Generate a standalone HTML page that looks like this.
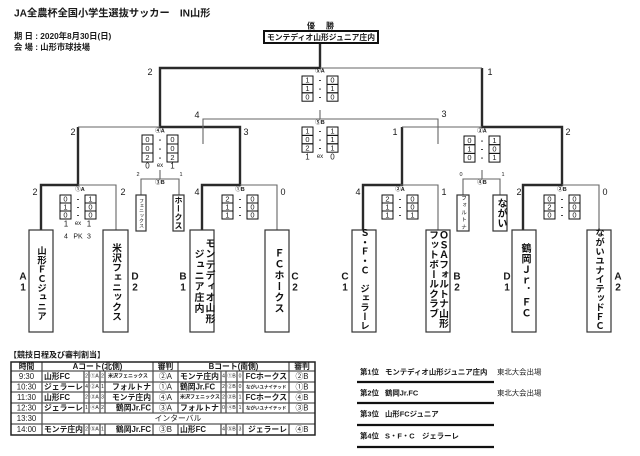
<!DOCTYPE html>
<html><head><meta charset="utf-8">
<style>
html,body{margin:0;padding:0;background:#fff;}
body{width:640px;height:456px;position:relative;overflow:hidden;}
svg{position:absolute;left:0;top:0;}
svg text{font-family:"Liberation Sans","Noto Sans CJK JP",sans-serif;dominant-baseline:central;fill:#1a1a1a;}
.m{text-anchor:middle}
.e{text-anchor:end}
.b{font-weight:bold}
.v{position:absolute;writing-mode:vertical-rl;text-orientation:upright;text-align:center;white-space:nowrap;font-family:"Liberation Sans","Noto Sans CJK JP",sans-serif;font-weight:bold;color:#111;}
</style></head><body>
<svg width="640" height="456" viewBox="0 0 640 456">
<!-- header -->
<text x="14" y="14" font-size="10.2" class="b">JA全農杯全国小学生選抜サッカー　IN山形</text>
<text x="14" y="36" font-size="8.3" class="b">期 日 : 2020年8月30日(日)</text>
<text x="14" y="47" font-size="8.3" class="b">会 場 : 山形市球技場</text>
<text x="311" y="26" class="m b" font-size="8" fill="#444">優</text>
<text x="330" y="26" class="m b" font-size="8" fill="#444">勝</text>

<!-- thick lines -->
<g stroke="#2a2a2a" stroke-width="2.4" fill="none">
<path d="M320 43 V68 H160 V127 H240 V185 H202 V230"/>
<path d="M78 127 V185 H41 V230"/>
<path d="M482 68 V127 H562 V185 H523 V230"/>
<path d="M402 127 V185 H363 V230"/>
</g>
<!-- thin lines -->
<g stroke="#666" stroke-width="1.1" fill="none">
<path d="M320 68 H482"/>
<path d="M78 127 H160"/>
<path d="M402 127 H482"/>
<path d="M78 185 H116 V230"/>
<path d="M240 185 H277 V230"/>
<path d="M400 185 H438 V230"/>
<path d="M562 185 H599 V230"/>
<path d="M320 110 V119 M203 144 V119 H438 V144"/>
<path d="M160 170 V179 M141 195 V179 H179 V195"/>
<path d="M482 170 V179 M463 195 V179 H500 V195"/>
</g>

<!-- champion box -->
<rect x="264" y="31" width="114" height="12" fill="#fff" stroke="#111" stroke-width="2"/>
<text x="321" y="37.5" class="m b" font-size="7.8">モンテディオ山形ジュニア庄内</text>

<!-- team boxes -->
<g fill="none" stroke="#333" stroke-width="1.2">
<rect x="29" y="230" width="24" height="102"/>
<rect x="103" y="230" width="25" height="102"/>
<rect x="190" y="230" width="24" height="102"/>
<rect x="265" y="230" width="24" height="102"/>
<rect x="352" y="230" width="24" height="102"/>
<rect x="426" y="230" width="24" height="102"/>
<rect x="512" y="230" width="24" height="102"/>
<rect x="587" y="230" width="24" height="102"/>
<rect x="136" y="195" width="10" height="36"/>
<rect x="173" y="195" width="11" height="36"/>
<rect x="457" y="195" width="12" height="36"/>
<rect x="493" y="195" width="14" height="36"/>
</g>

<!-- score boxes -->
<g fill="none" stroke="#111" stroke-width="1">
<rect x="302" y="76" width="11" height="8.4"/><rect x="302" y="84.4" width="11" height="8.4"/><rect x="302" y="92.8" width="11" height="8.4"/>
<rect x="327" y="76" width="11" height="8.4"/><rect x="327" y="84.4" width="11" height="8.4"/><rect x="327" y="92.8" width="11" height="8.4"/>
<rect x="302" y="127" width="11" height="8.4"/><rect x="302" y="135.4" width="11" height="8.4"/><rect x="302" y="143.8" width="11" height="8.4"/>
<rect x="327" y="127" width="11" height="8.4"/><rect x="327" y="135.4" width="11" height="8.4"/><rect x="327" y="143.8" width="11" height="8.4"/>
<rect x="142" y="135" width="11" height="9"/><rect x="142" y="144" width="11" height="9"/><rect x="142" y="153" width="11" height="9"/>
<rect x="167" y="135" width="11" height="9"/><rect x="167" y="144" width="11" height="9"/><rect x="167" y="153" width="11" height="9"/>
<rect x="464" y="136" width="11" height="8.7"/><rect x="464" y="144.7" width="11" height="8.7"/><rect x="464" y="153.4" width="11" height="8.7"/>
<rect x="489" y="136" width="11" height="8.7"/><rect x="489" y="144.7" width="11" height="8.7"/><rect x="489" y="153.4" width="11" height="8.7"/>
<rect x="60" y="195" width="11" height="8"/><rect x="60" y="203" width="11" height="8"/><rect x="60" y="211" width="11" height="8"/>
<rect x="85" y="195" width="11" height="8"/><rect x="85" y="203" width="11" height="8"/><rect x="85" y="211" width="11" height="8"/>
<rect x="222" y="195" width="11" height="8"/><rect x="222" y="203" width="11" height="8"/><rect x="222" y="211" width="11" height="8"/>
<rect x="247" y="195" width="11" height="8"/><rect x="247" y="203" width="11" height="8"/><rect x="247" y="211" width="11" height="8"/>
<rect x="382" y="195" width="11" height="8"/><rect x="382" y="203" width="11" height="8"/><rect x="382" y="211" width="11" height="8"/>
<rect x="407" y="195" width="11" height="8"/><rect x="407" y="203" width="11" height="8"/><rect x="407" y="211" width="11" height="8"/>
<rect x="544" y="195" width="11" height="8"/><rect x="544" y="203" width="11" height="8"/><rect x="544" y="211" width="11" height="8"/>
<rect x="569" y="195" width="11" height="8"/><rect x="569" y="203" width="11" height="8"/><rect x="569" y="211" width="11" height="8"/>
</g>

<g font-size="7.5">
<!-- 5A -->
<text x="307.5" y="80.2" class="m">1</text><text x="320" y="80.2" class="m b">-</text><text x="332.5" y="80.2" class="m">0</text>
<text x="307.5" y="88.6" class="m">1</text><text x="320" y="88.6" class="m b">-</text><text x="332.5" y="88.6" class="m">1</text>
<text x="307.5" y="97" class="m">0</text><text x="320" y="97" class="m b">-</text><text x="332.5" y="97" class="m">0</text>
<!-- 5B -->
<text x="307.5" y="131.2" class="m">1</text><text x="320" y="131.2" class="m b">-</text><text x="332.5" y="131.2" class="m">1</text>
<text x="307.5" y="139.6" class="m">0</text><text x="320" y="139.6" class="m b">-</text><text x="332.5" y="139.6" class="m">1</text>
<text x="307.5" y="148" class="m">2</text><text x="320" y="148" class="m b">-</text><text x="332.5" y="148" class="m">1</text>
<!-- 4A -->
<text x="147.5" y="139.5" class="m">0</text><text x="160" y="139.5" class="m b">-</text><text x="172.5" y="139.5" class="m">0</text>
<text x="147.5" y="148.5" class="m">0</text><text x="160" y="148.5" class="m b">-</text><text x="172.5" y="148.5" class="m">0</text>
<text x="147.5" y="157.5" class="m">2</text><text x="160" y="157.5" class="m b">-</text><text x="172.5" y="157.5" class="m">2</text>
<!-- 3A -->
<text x="469.5" y="140.3" class="m">0</text><text x="482" y="140.3" class="m b">-</text><text x="494.5" y="140.3" class="m">1</text>
<text x="469.5" y="149" class="m">1</text><text x="482" y="149" class="m b">-</text><text x="494.5" y="149" class="m">0</text>
<text x="469.5" y="157.7" class="m">0</text><text x="482" y="157.7" class="m b">-</text><text x="494.5" y="157.7" class="m">1</text>
<!-- 1A -->
<text x="65.5" y="199" class="m">0</text><text x="78" y="199" class="m b">-</text><text x="90.5" y="199" class="m">1</text>
<text x="65.5" y="207" class="m">1</text><text x="78" y="207" class="m b">-</text><text x="90.5" y="207" class="m">0</text>
<text x="65.5" y="215" class="m">0</text><text x="78" y="215" class="m b">-</text><text x="90.5" y="215" class="m">0</text>
<!-- 1B -->
<text x="227.5" y="199" class="m">2</text><text x="240" y="199" class="m b">-</text><text x="252.5" y="199" class="m">0</text>
<text x="227.5" y="207" class="m">1</text><text x="240" y="207" class="m b">-</text><text x="252.5" y="207" class="m">0</text>
<text x="227.5" y="215" class="m">1</text><text x="240" y="215" class="m b">-</text><text x="252.5" y="215" class="m">0</text>
<!-- 2A -->
<text x="387.5" y="199" class="m">2</text><text x="400" y="199" class="m b">-</text><text x="412.5" y="199" class="m">0</text>
<text x="387.5" y="207" class="m">1</text><text x="400" y="207" class="m b">-</text><text x="412.5" y="207" class="m">0</text>
<text x="387.5" y="215" class="m">1</text><text x="400" y="215" class="m b">-</text><text x="412.5" y="215" class="m">1</text>
<!-- 2B -->
<text x="549.5" y="199" class="m">0</text><text x="562" y="199" class="m b">-</text><text x="574.5" y="199" class="m">0</text>
<text x="549.5" y="207" class="m">2</text><text x="562" y="207" class="m b">-</text><text x="574.5" y="207" class="m">0</text>
<text x="549.5" y="215" class="m">0</text><text x="562" y="215" class="m b">-</text><text x="574.5" y="215" class="m">0</text>
</g>

<!-- ex / PK -->
<g font-size="8" fill="#333">
<text x="147.5" y="166" class="m">0</text><text x="160" y="166" class="m" font-size="6" fill="#666">ex</text><text x="172.5" y="166" class="m">1</text>
<text x="307.5" y="157" class="m">1</text><text x="320" y="157" class="m" font-size="6" fill="#666">ex</text><text x="332.5" y="157" class="m">0</text>
<text x="66" y="224" class="m">1</text><text x="78" y="224" class="m" font-size="6" fill="#666">ex</text><text x="89" y="224" class="m">1</text>
</g>
<g font-size="7" fill="#777">
<text x="66" y="237" class="m" fill="#777">4</text><text x="78" y="237" class="m" fill="#777">PK</text><text x="89" y="237" class="m" fill="#777">3</text>
</g>

<!-- match labels -->
<g font-size="5.5" class="b">
<text x="320" y="71.5" class="m b">⑤A</text>
<text x="320" y="123" class="m b">⑤B</text>
<text x="160" y="131.5" class="m b">④A</text>
<text x="482" y="131.5" class="m b">③A</text>
<text x="80" y="190" class="m b">①A</text>
<text x="240" y="190" class="m b">①B</text>
<text x="400" y="190" class="m b">②A</text>
<text x="562" y="190" class="m b">②B</text>
<text x="160" y="183" class="m b">③B</text>
<text x="482" y="183" class="m b">④B</text>
</g>

<!-- goal counts -->
<g font-size="9">
<text x="150" y="72" class="m">2</text><text x="490" y="72" class="m">1</text>
<text x="73" y="132" class="m">2</text><text x="246" y="132" class="m">3</text>
<text x="197" y="115" class="m">4</text><text x="444" y="114" class="m">3</text>
<text x="395" y="132" class="m">1</text><text x="568" y="132" class="m">2</text>
<text x="35" y="192" class="m">2</text><text x="123" y="192" class="m">2</text>
<text x="197" y="192" class="m">4</text><text x="283" y="192" class="m">0</text>
<text x="358" y="192" class="m">4</text><text x="444" y="192" class="m">1</text>
<text x="519" y="192" class="m">2</text><text x="605" y="192" class="m">0</text>
</g>
<g font-size="5.5">
<text x="138" y="175" class="m">2</text><text x="181" y="175" class="m">1</text>
<text x="461" y="175" class="m">0</text><text x="503" y="175" class="m">1</text>
</g>

<!-- seeds -->
<g font-size="10" class="b">
<text x="23" y="277" class="m b">A</text><text x="23" y="288" class="m b">1</text>
<text x="135" y="277" class="m b">D</text><text x="135" y="288" class="m b">2</text>
<text x="183" y="277" class="m b">B</text><text x="183" y="288" class="m b">1</text>
<text x="295" y="277" class="m b">C</text><text x="295" y="288" class="m b">2</text>
<text x="345" y="277" class="m b">C</text><text x="345" y="288" class="m b">1</text>
<text x="457" y="277" class="m b">B</text><text x="457" y="288" class="m b">2</text>
<text x="507" y="277" class="m b">D</text><text x="507" y="288" class="m b">1</text>
<text x="618" y="277" class="m b">A</text><text x="618" y="288" class="m b">2</text>
</g>

<!-- schedule table -->
<text x="9" y="355" font-size="8" class="b">【競技日程及び審判割当】</text>
<g stroke="#555" stroke-width="1.3" fill="none">
<path d="M11 371 H315 M11 382 H315 M11 392 H315 M11 403 H315 M11 413 H315 M11 424 H315"/>
<path d="M42 362 V435"/>
<path d="M153 362 V413 M178 362 V413 M289 362 V413 M153 424 V435 M178 424 V435 M289 424 V435"/>
<path d="M84 371 V413 M89 371 V413 M100 371 V413 M105 371 V413 M221 371 V413 M226 371 V413 M237 371 V413 M243 371 V413"/>
<path d="M84 424 V435 M89 424 V435 M100 424 V435 M105 424 V435 M221 424 V435 M226 424 V435 M237 424 V435 M243 424 V435"/>
</g>
<rect x="11" y="362" width="304" height="73" fill="none" stroke="#222" stroke-width="1.5"/>

<g font-size="7.8">
<text x="26.5" y="366.5" class="m b">時間</text>
<text x="97.5" y="366.5" class="m b">Aコート(北側)</text>
<text x="165.5" y="366.5" class="m b">審判</text>
<text x="233.5" y="366.5" class="m b">Bコート(南側)</text>
<text x="302" y="366.5" class="m b">審判</text>

<text x="26.5" y="376.5" class="m">9:30</text>
<text x="26.5" y="387" class="m">10:30</text>
<text x="26.5" y="397.5" class="m">11:30</text>
<text x="26.5" y="408" class="m">12:30</text>
<text x="26.5" y="418.5" class="m">13:30</text>
<text x="26.5" y="429.5" class="m">14:00</text>

<text x="44" y="376.5" class="b">山形FC</text>
<text x="44" y="387" class="b">ジェラーレ</text>
<text x="44" y="397.5" class="b">山形FC</text>
<text x="44" y="408" class="b">ジェラーレ</text>
<text x="44" y="429.5" class="b">モンテ庄内</text>

<text x="108" y="376.5" font-size="5" class="b">米沢フェニックス</text>
<text x="151" y="387" class="e b">フォルトナ</text>
<text x="151" y="397.5" class="e b">モンテ庄内</text>
<text x="151" y="408" class="e b">鶴岡Jr.FC</text>
<text x="151" y="429.5" class="e b">鶴岡Jr.FC</text>

<text x="165.5" y="376.5" class="m">②A</text>
<text x="165.5" y="387" class="m">①A</text>
<text x="165.5" y="397.5" class="m">④A</text>
<text x="165.5" y="408" class="m">③A</text>
<text x="165.5" y="429.5" class="m">③B</text>

<text x="180" y="376.5" class="b">モンテ庄内</text>
<text x="180" y="387" class="b">鶴岡Jr.FC</text>
<text x="180" y="397.5" font-size="5" class="b">米沢フェニックス</text>
<text x="180" y="408" class="b">フォルトナ</text>
<text x="180" y="429.5" class="b">山形FC</text>

<text x="287" y="376.5" class="e b">FCホークス</text>
<text x="246" y="387" font-size="4.5" class="b">ながいユナイテッド</text>
<text x="287" y="397.5" class="e b">FCホークス</text>
<text x="246" y="408" font-size="4.5" class="b">ながいユナイテッド</text>
<text x="287" y="429.5" class="e b">ジェラーレ</text>

<text x="302" y="376.5" class="m">②B</text>
<text x="302" y="387" class="m">①B</text>
<text x="302" y="397.5" class="m">④B</text>
<text x="302" y="408" class="m">③B</text>
<text x="302" y="429.5" class="m">④B</text>

<text x="178" y="418.5" class="m" fill="#333">インターバル</text>
</g>
<g font-size="5">
<text x="86.5" y="376.5" class="m">2</text><text x="94.5" y="376.5" class="m">①A</text><text x="102.5" y="376.5" class="m">2</text>
<text x="86.5" y="387" class="m">4</text><text x="94.5" y="387" class="m">②A</text><text x="102.5" y="387" class="m">1</text>
<text x="86.5" y="397.5" class="m">2</text><text x="94.5" y="397.5" class="m">③A</text><text x="102.5" y="397.5" class="m">3</text>
<text x="86.5" y="408" class="m">1</text><text x="94.5" y="408" class="m">④A</text><text x="102.5" y="408" class="m">2</text>
<text x="86.5" y="429.5" class="m">2</text><text x="94.5" y="429.5" class="m">⑤A</text><text x="102.5" y="429.5" class="m">1</text>
<text x="223.5" y="376.5" class="m">4</text><text x="231.5" y="376.5" class="m">①B</text><text x="240" y="376.5" class="m">0</text>
<text x="223.5" y="387" class="m">2</text><text x="231.5" y="387" class="m">②B</text><text x="240" y="387" class="m">0</text>
<text x="223.5" y="397.5" class="m">2</text><text x="231.5" y="397.5" class="m">③B</text><text x="240" y="397.5" class="m">1</text>
<text x="223.5" y="408" class="m">0</text><text x="231.5" y="408" class="m">④B</text><text x="240" y="408" class="m">1</text>
<text x="223.5" y="429.5" class="m">4</text><text x="231.5" y="429.5" class="m">⑤B</text><text x="240" y="429.5" class="m">3</text>
</g>

<!-- ranking -->
<g stroke="#111" stroke-width="2.2">
<path d="M357 382 H494 M357 403 H494 M357 425 H494 M357 447 H494"/>
</g>
<g font-size="7.4">
<text x="360" y="372" class="b">第1位</text><text x="385" y="372" class="b">モンテディオ山形ジュニア庄内</text>
<text x="360" y="393" class="b">第2位</text><text x="385" y="393" class="b">鶴岡Jr.FC</text>
<text x="360" y="414" class="b">第3位</text><text x="385" y="414" class="b">山形FCジュニア</text>
<text x="360" y="436" class="b">第4位</text><text x="385" y="436" class="b">S・F・C　ジェラーレ</text>
<text x="497" y="372" fill="#777">東北大会出場</text>
<text x="497" y="393" fill="#777">東北大会出場</text>
</g>
</svg>

<!-- vertical team names -->
<div class="v" style="left:29px;top:232px;width:24px;height:102px;font-size:9.3px;line-height:24px;">山形ＦＣジュニア</div>
<div class="v" style="left:103px;top:231px;width:25px;height:102px;font-size:9.8px;line-height:25px;">米沢フェニックス</div>
<div class="v" style="left:190px;top:230px;width:24px;height:102px;font-size:10px;letter-spacing:0.8px;line-height:11px;">モンテディオ山形<br>ジュニア庄内</div>
<div class="v" style="left:265px;top:230px;width:24px;height:102px;font-size:10px;letter-spacing:1px;line-height:24px;">ＦＣホークス</div>
<div class="v" style="left:352px;top:228px;width:24px;height:106px;font-size:9.3px;line-height:24px;text-align:start;">Ｓ・Ｆ・Ｃ　ジェラーレ</div>
<div class="v" style="left:423px;top:230px;width:24px;height:104px;font-size:9.8px;line-height:10px;text-align:start;">ＯＳＡフォルトナ山形<br>フットボールクラブ</div>
<div class="v" style="left:512px;top:230px;width:24px;height:102px;font-size:10px;letter-spacing:0.8px;line-height:24px;">鶴岡Ｊｒ．ＦＣ</div>
<div class="v" style="left:587px;top:228px;width:24px;height:106px;font-size:9.3px;line-height:24px;text-align:start;">ながいユナイテッドＦＣ</div>

<div class="v" style="left:136px;top:195px;width:10px;height:36px;font-size:5px;line-height:10px;font-weight:normal;">フェニックス</div>
<div class="v" style="left:173px;top:195px;width:11px;height:36px;font-size:8px;letter-spacing:0.5px;line-height:11px;">ホークス</div>
<div class="v" style="left:457px;top:193px;width:12px;height:40px;font-size:5.5px;letter-spacing:1.8px;line-height:12px;font-weight:normal;">フォルトナ</div>
<div class="v" style="left:493px;top:195px;width:14px;height:36px;font-size:10px;line-height:14px;">ながい</div>
</body></html>
